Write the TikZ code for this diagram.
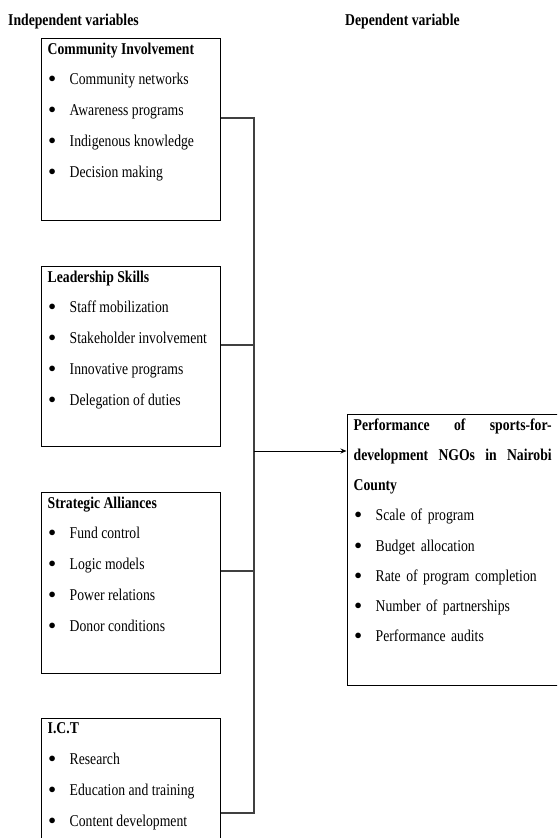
\documentclass[tikz,border=0pt]{standalone}
\usepackage{fontspec}
\setmainfont{Liberation Serif}[FakeStretch=0.83]
\usetikzlibrary{positioning,arrows.meta}

\newcommand{\itm}[1]{\makebox[22pt][l]{\hspace{1pt}\raisebox{2pt}{\fontsize{14}{14}\selectfont$\bullet$}}#1}

\begin{document}
\begin{tikzpicture}[x=1pt, y=-1pt,
  box/.style={draw, line width=1pt, minimum width=179pt, inner sep=0pt},
  lst/.style={anchor=north west, align=left, inner sep=0pt, font=\fontsize{16.5}{30.8}\selectfont},
  conn/.style={draw=black!75, line width=1.2pt},
  head/.style={anchor=base west, inner sep=0pt, font=\fontsize{16.5}{18}\selectfont\bfseries}]
\clip (0,0) rectangle (557,838);
\node[head] (indep) at (8,25) {Independent variables};
\node[head] (dep) at (345,25) {Dependent variable};
% independent variable boxes
\node[box, minimum height=182pt] (ci) at (130.5,129) {};
\node[box, minimum height=180pt] (ls) at (130.5,356) {};
\node[box, minimum height=181pt] (sa) at (130.5,582.5) {};
\node[box, minimum height=142pt] (ict) at (130.5,789) {};
\node[lst] (ci text) at ([shift={(7,5)}]ci.north west) {\textbf{Community Involvement}\\
  \itm{Community networks}\\ \itm{Awareness programs}\\
  \itm{Indigenous knowledge}\\ \itm{Decision making}};
\node[lst] (ls text) at ([shift={(7,5)}]ls.north west) {\textbf{Leadership Skills}\\
  \itm{Staff mobilization}\\ \itm{Stakeholder involvement}\\
  \itm{Innovative programs}\\ \itm{Delegation of duties}};
\node[lst] (sa text) at ([shift={(7,5)}]sa.north west) {\textbf{Strategic Alliances}\\
  \itm{Fund control}\\ \itm{Logic models}\\
  \itm{Power relations}\\ \itm{Donor conditions}};
\node[lst] (ict text) at ([shift={(7,5)}]ict.north west) {\textbf{I.C.T}\\
  \itm{Research}\\ \itm{Education and training}\\ \itm{Content development}};
% dependent variable box
\node[box, minimum width=218pt, minimum height=271pt] (perf) at (456,549.5) {};
\node[lst, text width=198pt, font=\fontsize{16.5}{30.2}\selectfont] (perf text)
  at ([shift={(7,5)}]perf.north west) {%
  \textbf{Performance\hfill of\hfill sports-for-}\\
  \textbf{development\hfill NGOs\hfill in\hfill Nairobi}\\
  \textbf{County}\\
  \itm{Scale of program}\\ \itm{Budget allocation}\\
  \itm{Rate of program completion}\\ \itm{Number of partnerships}\\
  \itm{Performance audits}};
% connectors
\coordinate (b1) at (254,118);
\coordinate (b2) at (254,345);
\coordinate (b3) at (254,571);
\coordinate (b4) at (254,813);
\coordinate (bm) at (254,451);
\draw[conn] (ci.east |- b1) -- (b1) -- (b4) -- (ict.east |- b4);
\draw[conn] (ls.east |- b2) -- (b2);
\draw[conn] (sa.east |- b3) -- (b3);
\draw[line width=1pt, -{Stealth[length=6pt,width=5pt]}] (bm) -- (perf.west |- bm);
\end{tikzpicture}
\end{document}
